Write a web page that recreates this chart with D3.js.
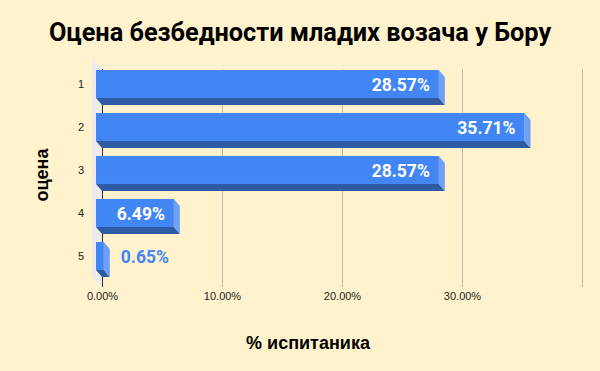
<!DOCTYPE html>
<html>
<head>
<meta charset="utf-8">
<script src="https://cdn.jsdelivr.net/npm/d3@7"></script>
<style>
  body { margin: 0; background: #fff2cc; }
  svg { display: block; }
</style>
</head>
<body>
<div id="chart"></div>
<script>
// data
var grades = ["1", "2", "3", "4", "5"];
var shares = [0.2857, 0.3571, 0.2857, 0.0649, 0.0065];
var valueLabels = ["28.57%", "35.71%", "28.57%", "6.49%", "0.65%"];
var xTicks = [0, 0.1, 0.2, 0.3, 0.4];

var width = 600, height = 371;
var dx = 6, dy = 7;   // depth of the 3d bars

var svg = d3.select("#chart").append("svg")
	.attr("width", width)
	.attr("height", height);

svg.append("rect")
	.attr("width", width)
	.attr("height", height)
	.attr("fill", "#fff2cc");

var x = d3.scaleLinear()
	.domain([0, 0.4])
	.range([102, 582]);

var y = d3.scaleBand()
	.domain(grades)
	.range([62.5, 277.5])
	.paddingInner(0.35)
	.paddingOuter(0.175);

var gridTop = 69, gridBottom = 287;

// back wall on the left
svg.append("path")
	.attr("d", "M" + (x(0) - 10) + "," + (gridTop - 10) +
		"L" + x(0) + "," + gridTop +
		"L" + x(0) + "," + gridBottom +
		"L" + (x(0) - 10) + "," + (gridBottom - 10) + "Z")
	.attr("fill", "#ececec");

// gridlines
svg.selectAll(".grid")
	.data(xTicks.slice(1))
	.enter().append("line")
	.attr("class", "grid")
	.attr("x1", d => x(d) + 0.5).attr("x2", d => x(d) + 0.5)
	.attr("y1", gridTop).attr("y2", gridBottom)
	.attr("stroke", "#c4bba4")
	.attr("stroke-width", 1);

// x axis labels
var xAxis = d3.axisBottom(x)
	.tickValues(xTicks.slice(0, 4))
	.tickFormat(d3.format(".2%"))
	.tickSize(0)
	.tickPadding(0);

var gx = svg.append("g")
	.attr("transform", "translate(0," + 292 + ")")
	.call(xAxis);
gx.select(".domain").remove();
gx.selectAll("text")
	.attr("font-family", "Arial, 'Liberation Sans', sans-serif")
	.attr("font-size", 11)
	.attr("fill", "#222");

// zero line
svg.append("line")
	.attr("x1", x(0) + 0.5).attr("x2", x(0) + 0.5)
	.attr("y1", gridTop).attr("y2", gridBottom)
	.attr("stroke", "#333")
	.attr("stroke-width", 1);

// y axis labels
var yAxis = d3.axisLeft(y).tickSize(0).tickPadding(0);
var gy = svg.append("g")
	.attr("transform", "translate(84,0)")
	.call(yAxis);
gy.select(".domain").remove();
gy.selectAll("text")
	.attr("font-family", "Arial, 'Liberation Sans', sans-serif")
	.attr("font-size", 11)
	.attr("fill", "#222");

// bars
var bars = svg.selectAll(".bar")
	.data(grades)
	.enter().append("g")
	.attr("class", "bar");

bars.append("path")
	.attr("fill", "#2f5ba4")
	.attr("d", function(d, i) {
		var x0 = x(0) - dx, x1 = x(shares[i]) - dx, yb = y(d) + y.bandwidth();
		return "M" + x0 + "," + yb + "L" + x1 + "," + yb +
			"L" + (x1 + dx) + "," + (yb + dy) + "L" + (x0 + dx) + "," + (yb + dy) + "Z";
	});

bars.append("path")
	.attr("fill", "#6fa0f6")
	.attr("d", function(d, i) {
		var x1 = x(shares[i]) - dx, y0 = y(d), yb = y0 + y.bandwidth();
		return "M" + x1 + "," + y0 + "L" + (x1 + dx) + "," + (y0 + dy) +
			"L" + (x1 + dx) + "," + (yb + dy) + "L" + x1 + "," + yb + "Z";
	});

bars.append("rect")
	.attr("fill", "#4285f4")
	.attr("x", x(0) - dx)
	.attr("y", d => y(d))
	.attr("width", (d, i) => x(shares[i]) - x(0))
	.attr("height", y.bandwidth());

// value labels
bars.append("text")
	.attr("font-family", "Roboto, sans-serif")
	.attr("font-weight", "bold")
	.attr("font-size", 17.5)
	.attr("y", d => y(d) + y.bandwidth() / 2 + 7)
	.each(function(d, i) {
		var inside = shares[i] > 0.03;
		d3.select(this)
			.attr("x", inside ? x(shares[i]) - dx - 9 : x(shares[i]) + 11)
			.attr("text-anchor", inside ? "end" : "start")
			.attr("fill", inside ? "#ffffff" : "#4285f4")
			.text(valueLabels[i]);
	});

// titles
svg.append("text")
	.attr("x", 300).attr("y", 41)
	.attr("text-anchor", "middle")
	.attr("font-family", "Roboto, sans-serif")
	.attr("font-weight", "bold")
	.attr("font-size", 25.3)
	.attr("fill", "#000")
	.text("Оцена безбедности младих возача у Бору");

svg.append("text")
	.attr("x", 308).attr("y", 349)
	.attr("text-anchor", "middle")
	.attr("font-family", "Arial, 'Liberation Sans', sans-serif")
	.attr("font-weight", "bold")
	.attr("font-size", 18)
	.attr("fill", "#000")
	.text("% испитаника");

svg.append("text")
	.attr("transform", "translate(48,175) rotate(-90)")
	.attr("text-anchor", "middle")
	.attr("font-family", "Arial, 'Liberation Sans', sans-serif")
	.attr("font-weight", "bold")
	.attr("font-size", 18)
	.attr("fill", "#000")
	.text("оцена");
</script>
</body>
</html>
